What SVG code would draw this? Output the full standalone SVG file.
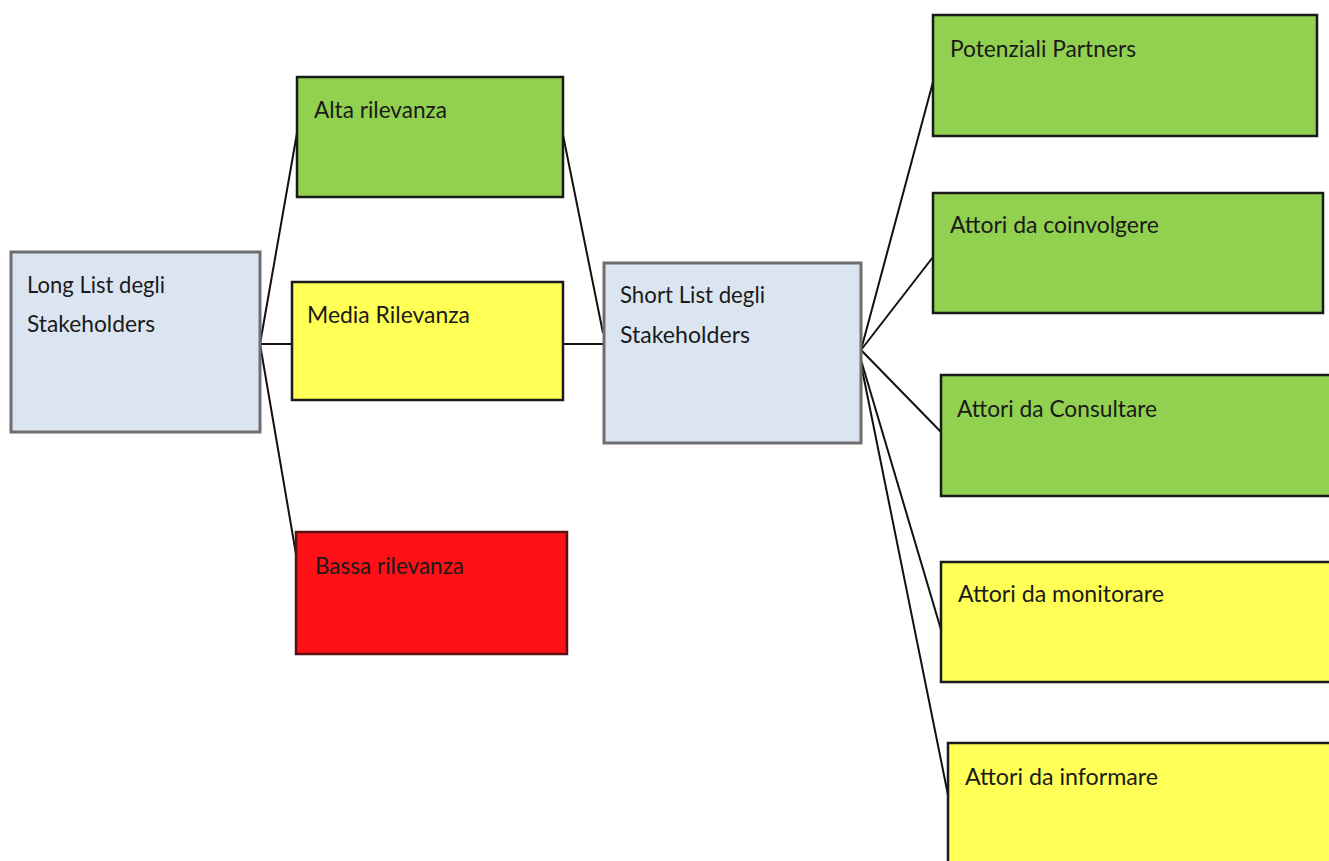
<svg xmlns="http://www.w3.org/2000/svg" width="1329" height="861" viewBox="0 0 1329 861">
<style>
.t{font-family:Lato,"Open Sans","Liberation Sans",sans-serif;font-size:23px;fill:#1a1a1a}
.blue{fill:#dbe5f1;stroke:#6e6e6e;stroke-width:3}
.green{fill:#92d050;stroke:#1a1a1a;stroke-width:2.5}
.yellow{fill:#ffff55;stroke:#1a1a1a;stroke-width:2.5}
.red{fill:#ff1016;stroke:#5a1010;stroke-width:2.5}
.c{stroke:#111;stroke-width:2;fill:none}
</style>
<rect width="1329" height="861" fill="#fff"/>
<g id="connectors">
<line class="c" x1="260" y1="344" x2="297" y2="133"/>
<line class="c" x1="260" y1="344" x2="292" y2="344"/>
<line class="c" x1="260" y1="344" x2="297" y2="560"/>
<line class="c" x1="563" y1="135" x2="603" y2="333"/>
<line class="c" x1="563" y1="344" x2="603" y2="344"/>
<line class="c" x1="861" y1="350" x2="933" y2="82"/>
<line class="c" x1="861" y1="350" x2="933" y2="257"/>
<line class="c" x1="861" y1="350" x2="941" y2="432"/>
<line class="c" x1="861" y1="360" x2="942" y2="633"/>
<line class="c" x1="861" y1="364" x2="948" y2="795"/>
</g>
<g id="long-list">
<rect class="blue" x="11" y="252" width="249" height="180"/>
<text class="t" x="27" y="293" textLength="138" lengthAdjust="spacingAndGlyphs">Long List degli</text>
<text class="t" x="27" y="332" textLength="128" lengthAdjust="spacingAndGlyphs">Stakeholders</text>
</g>
<g id="alta">
<rect class="green" x="297" y="77" width="266" height="120"/>
<text class="t" x="314" y="118" textLength="133" lengthAdjust="spacingAndGlyphs">Alta rilevanza</text>
</g>
<g id="media">
<rect class="yellow" x="292" y="282" width="271" height="118"/>
<text class="t" x="307" y="323" textLength="163" lengthAdjust="spacingAndGlyphs">Media Rilevanza</text>
</g>
<g id="bassa">
<rect class="red" x="296" y="532" width="271" height="122"/>
<text class="t" x="315" y="574" textLength="149" lengthAdjust="spacingAndGlyphs">Bassa rilevanza</text>
</g>
<g id="short-list">
<rect class="blue" x="604" y="263" width="257" height="180"/>
<text class="t" x="620" y="303" textLength="145" lengthAdjust="spacingAndGlyphs">Short List degli</text>
<text class="t" x="620" y="343" textLength="130" lengthAdjust="spacingAndGlyphs">Stakeholders</text>
</g>
<g id="partners">
<rect class="green" x="933" y="15" width="384" height="121"/>
<text class="t" x="950" y="57" textLength="186" lengthAdjust="spacingAndGlyphs">Potenziali Partners</text>
</g>
<g id="coinvolgere">
<rect class="green" x="933" y="193" width="390" height="120"/>
<text class="t" x="950" y="233" textLength="209" lengthAdjust="spacingAndGlyphs">Attori da coinvolgere</text>
</g>
<g id="consultare">
<rect class="green" x="941" y="375" width="392" height="121"/>
<text class="t" x="957" y="417" textLength="200" lengthAdjust="spacingAndGlyphs">Attori da Consultare</text>
</g>
<g id="monitorare">
<rect class="yellow" x="941" y="562" width="392" height="120"/>
<text class="t" x="958" y="602" textLength="206" lengthAdjust="spacingAndGlyphs">Attori da monitorare</text>
</g>
<g id="informare">
<rect class="yellow" x="948" y="743" width="385" height="125"/>
<text class="t" x="965" y="785" textLength="193" lengthAdjust="spacingAndGlyphs">Attori da informare</text>
</g>
</svg>
